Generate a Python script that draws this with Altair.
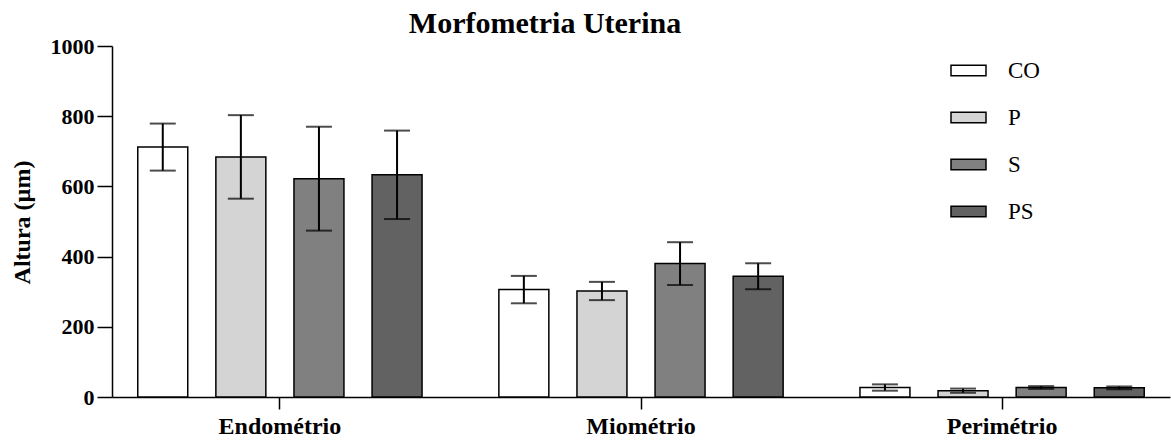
import altair as alt
import pandas as pd

# Uterine layer thickness (mean ± error) per treatment group
regions = ["Endométrio", "Miométrio", "Perimétrio"]
groups = ["CO", "P", "S", "PS"]
means = {
    "CO": [712, 306, 27],
    "P": [684, 302, 18],
    "S": [622, 380, 27],
    "PS": [633, 344, 26],
}
errors = {
    "CO": [67, 39, 9],
    "P": [119, 26, 6],
    "S": [148, 61, 4],
    "PS": [126, 37, 4],
}
fills = ["#ffffff", "#d4d4d4", "#808080", "#626262"]
y_ticks = [0, 200, 400, 600, 800, 1000]

rows = []
for g in groups:
    for r, m, e in zip(regions, means[g], errors[g]):
        rows.append({"region": r, "group": g, "mean": m, "lo": m - e, "hi": m + e})
df = pd.DataFrame(rows)

serif = "Liberation Serif"

x_enc = alt.X(
    "region:N",
    sort=regions,
    scale=alt.Scale(paddingInner=0.07, paddingOuter=0),
    axis=alt.Axis(
        title=None, labelAngle=0, labelFont=serif, labelFontWeight="bold",
        labelFontSize=24, labelColor="black", tickSize=12, tickColor="black",
        tickWidth=1.5, domainColor="black", domainWidth=1.5, labelPadding=5,
    ),
)
xoff_enc = alt.XOffset(
    "group:N", sort=groups, scale=alt.Scale(paddingInner=0.36, paddingOuter=0.33)
)
y_scale = alt.Scale(domain=[0, 1000], nice=False)

bars = alt.Chart(df).mark_bar(stroke="black", strokeWidth=1.5).encode(
    x=x_enc,
    xOffset=xoff_enc,
    y=alt.Y(
        "mean:Q",
        scale=y_scale,
        axis=alt.Axis(
            title="Altura (µm)", values=y_ticks, format="d", grid=False,
            labelFont=serif, labelFontWeight="bold", labelFontSize=22,
            labelColor="black", tickSize=15, tickColor="black", tickWidth=1.5,
            domainColor="black", domainWidth=1.5, labelPadding=3,
            titleFont=serif, titleFontWeight="bold", titleFontSize=24,
            titleColor="black", titleX=-90, titleY=176, titleAngle=270,
            titleAlign="center", titleBaseline="middle",
        ),
    ),
    color=alt.Color(
        "group:N",
        sort=groups,
        scale=alt.Scale(domain=groups, range=fills),
        legend=alt.Legend(
            title=None, orient="none", legendX=838, legendY=6,
            symbolType="M-1,-0.3H1V0.3H-1Z", symbolSize=1225,
            symbolStrokeColor="black", symbolStrokeWidth=1.5, symbolOpacity=1,
            labelFont=serif, labelFontSize=23, labelColor="black",
            labelOffset=21, rowPadding=16, padding=0,
        ),
    ),
)

stems = alt.Chart(df).mark_rule(color="black", strokeWidth=2).encode(
    x=x_enc, xOffset=xoff_enc, y=alt.Y("lo:Q", scale=y_scale), y2="hi:Q"
)
caps_hi = alt.Chart(df).mark_tick(color="black", thickness=2, size=26).encode(
    x=x_enc, xOffset=xoff_enc, y=alt.Y("hi:Q", scale=y_scale)
)
caps_lo = alt.Chart(df).mark_tick(color="black", thickness=2, size=26).encode(
    x=x_enc, xOffset=xoff_enc, y=alt.Y("lo:Q", scale=y_scale)
)

chart = (
    alt.layer(bars, stems, caps_hi, caps_lo)
    .properties(
        width=1058,
        height=351,
        title=alt.TitleParams(
            "Morfometria Uterina", font=serif, fontSize=30, fontWeight="bold",
            color="black", anchor="middle", dx=-96, dy=28, offset=0,
            baseline="alphabetic",
        ),
        padding={"left": 112, "top": 46, "right": 1, "bottom": 44},
        autosize=alt.AutoSizeParams(type="none"),
    )
    .configure(font=serif)
    .configure_view(stroke=None)
    .configure_legend(labelFont=serif)
)

chart.save("out.html", embed_options={"renderer": "svg", "actions": False})
